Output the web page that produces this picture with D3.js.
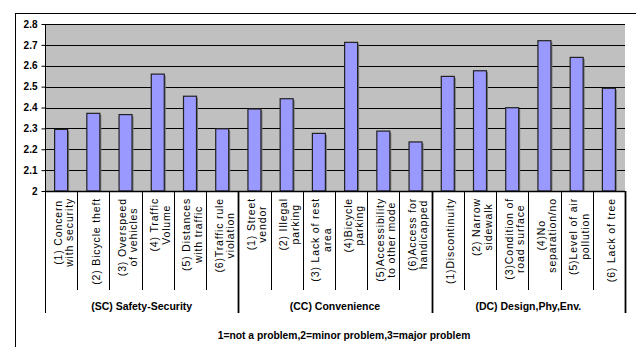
<!DOCTYPE html>
<html>
<head>
<meta charset="utf-8">
<script src="https://cdn.jsdelivr.net/npm/d3@7"></script>
<style>
    body { margin: 0; background: #fff; }
    svg { display: block; font-family: Arial, "Liberation Sans", sans-serif; }
    .grid line { stroke: #000; stroke-width: 1; }
    .y.axis text { font-size: 10px; font-weight: bold; fill: #000; }
    .y.axis path, .y.axis line { stroke: #000; }
    .cat text { font-size: 10.5px; letter-spacing: 0.85px; fill: #000; }
    .grp { font-size: 10.5px; font-weight: bold; }
</style>
</head>
<body>
<div id="chartArea"></div>
<script>
// category labels (lines split with |)
let categories = [
    "(1) Concern|with security", "(2) Bicycle theft", "(3) Overspeed|of vehicles",
    "(4) Traffic|Volume", "(5) Distances|with traffic", "(6)Traffic rule|violation",
    "(1) Street|vendor", "(2) Illegal|parking", "(3) Lack of rest|area",
    "(4)Bicycle|parking", "(5)Accessibility|to other mode", "(6)Access for|handicapped",
    "(1)Discontinuity", "(2) Narrow|sidewalk", "(3)Condition of|road surface",
    "(4)No|separation/no", "(5)Level of air|pollution", "(6) Lack of tree"
];

let values = [
    2.295, 2.372, 2.366, 2.560, 2.454, 2.298,
    2.393, 2.442, 2.276, 2.712, 2.287, 2.235,
    2.549, 2.576, 2.399, 2.720, 2.640, 2.492
];

let groups = ["(SC) Safety-Security", "(CC) Convenience", "(DC) Design,Phy,Env."];
let groupSize = 6;

let yTicks = [2, 2.1, 2.2, 2.3, 2.4, 2.5, 2.6, 2.7, 2.8];

let footnote = "1=not a problem,2=minor problem,3=major problem";

function drawGraph() {
    let width = 636, height = 347;
    let plot = { left: 45, right: 625, top: 24, bottom: 191 };

    let svg = d3.select("#chartArea")
        .append('svg')
            .attr('width', width)
            .attr('height', height);

    // outer frame
    svg.append('rect')
        .attr('x', 15.5).attr('y', 13.5)
        .attr('width', 640).attr('height', 360)
        .attr('fill', 'none').attr('stroke', '#000');

    let xScale = d3.scaleBand()
        .domain(d3.range(categories.length))
        .range([plot.left, plot.right]);

    let yScale = d3.scaleLinear()
        .domain([2, 2.8])
        .range([plot.bottom, plot.top]);

    svg.append('rect')
        .attr('x', plot.left).attr('y', plot.top)
        .attr('width', plot.right - plot.left)
        .attr('height', plot.bottom - plot.top)
        .attr('fill', '#c0c0c0');

    // gridlines
    svg.append('g')
        .attr('class', 'grid')
        .selectAll('line')
        .data(yTicks.slice(1))
        .join('line')
            .attr('x1', plot.left).attr('x2', plot.right)
            .attr('y1', d => Math.round(yScale(d)) + 0.5)
            .attr('y2', d => Math.round(yScale(d)) + 0.5);

    let barW = 13;
    let bars = svg.append('g');

    // shadows
    bars.selectAll('rect.shadow')
        .data(values)
        .join('rect')
            .attr('class', 'shadow')
            .attr('x', (d, i) => xScale(i) + xScale.bandwidth() / 2 - barW / 2 + 1.5)
            .attr('y', d => yScale(d) + 1.5)
            .attr('width', barW)
            .attr('height', d => plot.bottom - yScale(d) - 1.5)
            .attr('fill', '#7a7a7a');

    bars.selectAll('rect.bar')
        .data(values)
        .join('rect')
            .attr('class', 'bar')
            .attr('x', (d, i) => xScale(i) + xScale.bandwidth() / 2 - barW / 2)
            .attr('y', d => yScale(d))
            .attr('width', barW)
            .attr('height', d => plot.bottom - yScale(d))
            .attr('fill', '#9999ff')
            .attr('stroke', '#222')
            .attr('stroke-width', 1.2);

    // y axis
    svg.append('g')
        .attr('class', 'y axis')
        .attr('transform', 'translate(' + (plot.left + 0.5) + ',0)')
        .call(d3.axisLeft(yScale)
            .tickValues(yTicks)
            .tickSize(4)
            .tickPadding(4)
            .tickFormat(d3.format('')))
        .call(g => g.select('.domain').attr('d', 'M0,' + plot.top + 'V313'));

    // bottom axis line
    svg.append('line')
        .attr('x1', plot.left).attr('x2', plot.right)
        .attr('y1', plot.bottom + 0.5).attr('y2', plot.bottom + 0.5)
        .attr('stroke', '#000').attr('stroke-width', 1.5);

    // category separators
    let seps = d3.range(1, categories.length + 1);
    svg.append('g')
        .selectAll('line')
        .data(seps)
        .join('line')
            .attr('x1', d => Math.round(xScale(d - 1) + xScale.bandwidth()) + 0.5)
            .attr('x2', d => Math.round(xScale(d - 1) + xScale.bandwidth()) + 0.5)
            .attr('y1', plot.bottom)
            .attr('y2', d => d % groupSize === 0 ? 313 : 290)
            .attr('stroke', '#000')
            .attr('stroke-width', d => d % groupSize === 0 ? 1.8 : 1);

    // category labels, rotated, block top aligned, lines centred
    let cat = svg.append('g').attr('class', 'cat');
    categories.forEach((c, i) => {
        let lines = c.split('|');
        let cx = xScale(i) + xScale.bandwidth() / 2 + 2.5;
        let g = cat.append('g');
        let texts = lines.map(l => g.append('text').text(l));
        let maxLen = d3.max(texts, t => t.node().getComputedTextLength());
        let lineH = 11.5;
        let midY = 198 + maxLen / 2;
        texts.forEach((t, k) => {
            let off = (k - (lines.length - 1) / 2) * lineH;
            t.attr('text-anchor', 'middle')
             .attr('dy', '0.35em')
             .attr('transform', 'translate(' + (cx + off) + ',' + midY + ') rotate(-90)');
        });
    });

    // group labels
    svg.append('g')
        .selectAll('text')
        .data(groups)
        .join('text')
            .attr('class', 'grp')
            .attr('x', (d, i) => (xScale(i * groupSize) + xScale(i * groupSize + groupSize - 1) + xScale.bandwidth()) / 2)
            .attr('y', 310)
            .attr('text-anchor', 'middle')
            .text(d => d);

    svg.append('text')
        .attr('class', 'grp')
        .attr('x', 344)
        .attr('y', 339)
        .attr('text-anchor', 'middle')
        .style('font-size', '10.3px')
        .text(footnote);
}

drawGraph();
</script>
</body>
</html>
